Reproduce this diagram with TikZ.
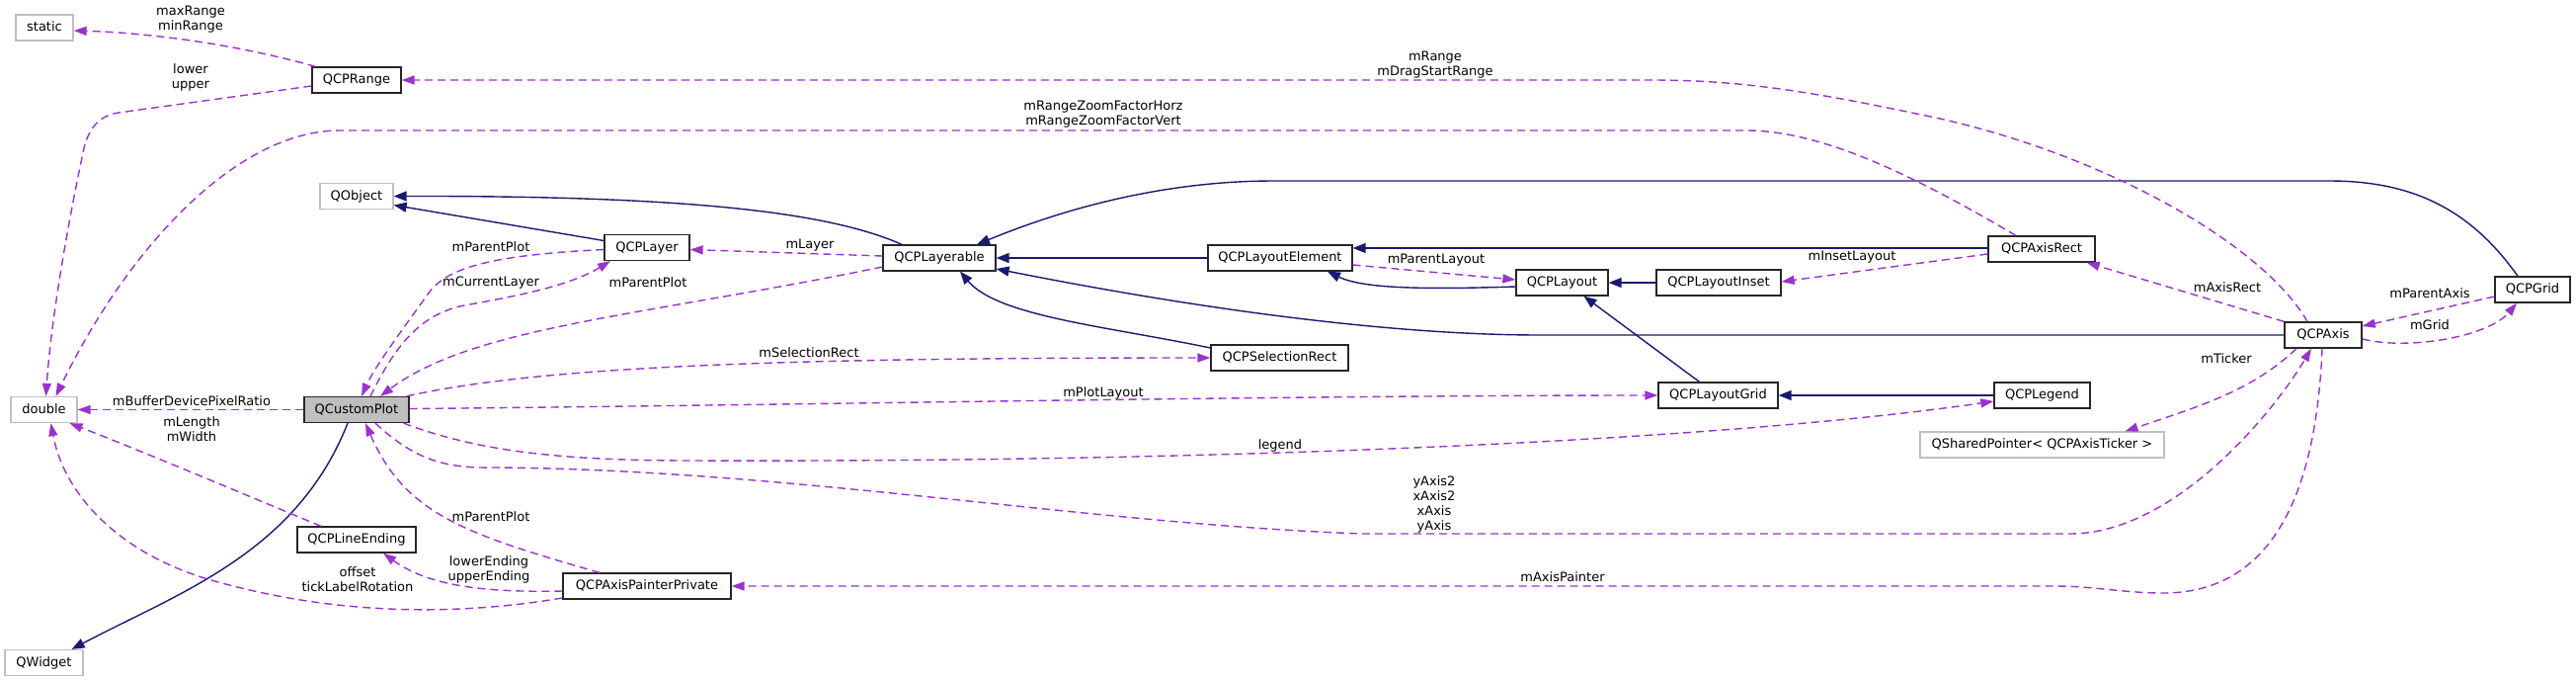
\documentclass[tikz,border=0pt]{standalone}
\usepackage{fontspec}
\setmainfont{DejaVu Sans}
\usetikzlibrary{arrows.meta}
\definecolor{inh}{HTML}{191970}
\definecolor{usec}{HTML}{9A32CD}
\definecolor{ugray}{HTML}{BFBFBF}
\begin{document}
\begin{tikzpicture}[x=1pt,y=-1pt,
  box/.style={rectangle, line width=1.3pt, minimum height=26pt, inner xsep=2pt, inner ysep=0pt,
    text height=10pt, text depth=3pt, font=\fontsize{13}{15}\selectfont, anchor=center},
  doc/.style={box, draw=black!85, fill=white},
  undoc/.style={box, draw=ugray, fill=white},
  inhline/.style={draw=inh, line width=1.4pt, -{Triangle[length=13pt,width=10pt]}},
  useline/.style={draw=usec, line width=1.4pt, dash pattern=on 8pt off 5pt, -{Triangle[length=13pt,width=9pt]}},
  lbl/.style={font=\fontsize{13}{15}\selectfont, align=center, inner sep=0pt}
]
\fill[white] (0,0) rectangle (2608,689);
\useasboundingbox (0,0) rectangle (2608,689);

% nodes
\node[undoc, minimum width=58pt] (static) at (45,28) {static};
\node[doc, minimum width=90pt] (QCPRange) at (361,81) {QCPRange};
\node[undoc, minimum width=74pt] (QObject) at (361,198.5) {QObject};
\node[doc, minimum width=86pt] (QCPLayer) at (655,250.5) {QCPLayer};
\node[doc, minimum width=114pt] (QCPLayerable) at (951,261) {QCPLayerable};
\node[doc, minimum width=146pt] (QCPLayoutElement) at (1296,261) {QCPLayoutElement};
\node[doc, minimum width=93pt] (QCPLayout) at (1581.5,286) {QCPLayout};
\node[doc, minimum width=126pt] (QCPLayoutInset) at (1740,286) {QCPLayoutInset};
\node[doc, minimum width=108pt] (QCPAxisRect) at (2067,252) {QCPAxisRect};
\node[doc, minimum width=76pt] (QCPGrid) at (2564,293) {QCPGrid};
\node[doc, minimum width=78pt] (QCPAxis) at (2352,339) {QCPAxis};
\node[undoc, minimum width=67pt] (double) at (44.5,414.5) {double};
\node[doc, minimum width=106pt, fill=ugray] (QCustomPlot) at (361,414.5) {QCustomPlot};
\node[doc, minimum width=120pt] (QCPLineEnding) at (361,546) {QCPLineEnding};
\node[doc, minimum width=170pt] (QCPAxisPainterPrivate) at (655,593) {QCPAxisPainterPrivate};
\node[undoc, minimum width=79pt] (QWidget) at (44.5,670.5) {QWidget};
\node[doc, minimum width=139pt] (QCPSelectionRect) at (1295.5,362) {QCPSelectionRect};
\node[doc, minimum width=121pt] (QCPLayoutGrid) at (1739.5,400) {QCPLayoutGrid};
\node[doc, minimum width=97pt] (QCPLegend) at (2067.5,400) {QCPLegend};
\node[undoc, minimum width=247pt] (QSharedPointer) at (2067.5,450) {QSharedPointer< QCPAxisTicker >};

% inheritance
\draw[inhline] ([yshift=7pt]QCPLayer.west) -- ([yshift=-9pt]QObject.east);
\draw[inhline] ([xshift=-38pt]QCPLayerable.north) .. controls (840,215) and (700,198) .. (QObject.east);
\draw[inhline] ([xshift=-9pt]QCustomPlot.south) .. controls (300,560) and (180,600) .. ([xshift=-12pt]QWidget.north east);
\draw[inhline] (QCPLayoutElement.west) -- (QCPLayerable.east);
\draw[inhline] (QCPAxis.west) -- (1560,339) .. controls (1400,339) and (1200,310) .. ([yshift=-11pt]QCPLayerable.east);
\draw[inhline] ([xshift=-15pt]QCPGrid.north) .. controls (2500,210) and (2440,183) .. (2358,183) -- (1290,183) .. controls (1180,183) and (1080,210) .. ([xshift=38pt]QCPLayerable.north);
\draw[inhline] ([yshift=10pt]QCPSelectionRect.west) .. controls (1120,330) and (1010,320) .. ([xshift=21pt]QCPLayerable.south);
\draw[inhline] ([yshift=1pt]QCPAxisRect.west) -- ([yshift=10pt]QCPLayoutElement.east);
\draw[inhline] ([yshift=-4pt]QCPLayout.west) .. controls (1440,293) and (1380,292) .. ([xshift=48pt]QCPLayoutElement.south);
\draw[inhline] (QCPLayoutInset.west) -- (QCPLayout.east);
\draw[inhline] ([xshift=-19pt]QCPLayoutGrid.north) -- ([xshift=22pt]QCPLayout.south);
\draw[inhline] (QCPLegend.west) -- (QCPLayoutGrid.east);

% usage
\draw[useline] ([xshift=4pt]QCPRange.north west) .. controls (240,45) and (150,33) .. ([yshift=-3pt]static.east);
\draw[useline] ([yshift=-6pt]QCPRange.west) -- (120,114) .. controls (100,117) and (90,130) .. (85,150) .. controls (70,220) and (52,320) .. ([xshift=2pt]double.north);
\draw[useline] ([xshift=-26pt]QCPAxisRect.north) .. controls (1950,185) and (1850,132) .. (1768,132) -- (344,132) .. controls (240,132) and (130,250) .. ([xshift=12pt]double.north);
\draw[useline] ([xshift=-16pt]QCPAxis.north) .. controls (2290,245) and (2120,150) .. (1940,115) .. controls (1830,92) and (1760,81) .. (1672,81) -- (QCPRange.east);
\draw[useline] (QCustomPlot.west) -- (double.east);
\draw[useline] ([xshift=-36pt]QCPLineEnding.north) .. controls (240,497) and (140,455) .. ([xshift=26pt]double.south);
\draw[useline] ([yshift=-12pt]QCPAxisPainterPrivate.west) .. controls (450,625) and (330,620) .. (214,587) .. controls (120,560) and (65,500) .. ([xshift=7pt]double.south);
\draw[useline] ([yshift=-2pt]QCPLayer.west) .. controls (500,258) and (455,270) .. (435,295) .. controls (410,330) and (380,370) .. ([xshift=5pt]QCustomPlot.north);
\draw[useline] ([xshift=14pt]QCustomPlot.north) .. controls (400,350) and (425,318) .. (470,309) .. controls (520,300) and (575,290) .. ([xshift=-37pt]QCPLayer.south);
\draw[useline] ([yshift=-9pt]QCPLayerable.west) .. controls (650,320) and (480,330) .. ([xshift=24pt]QCustomPlot.north);
\draw[useline] ([yshift=2pt]QCPLayerable.west) -- ([yshift=-2pt]QCPLayer.east);
\draw[useline] ([xshift=-3pt]QCustomPlot.north east) .. controls (550,370) and (800,362) .. (QCPSelectionRect.west);
\draw[useline] ([yshift=1pt]QCustomPlot.east) .. controls (800,410) and (1300,400) .. (QCPLayoutGrid.west);
\draw[useline] ([xshift=-6pt]QCustomPlot.south east) .. controls (480,455) and (560,466) .. (700,466) .. controls (1250,468) and (1750,445) .. ([yshift=-6pt]QCPLegend.west);
\draw[useline] ([xshift=19pt]QCustomPlot.south) .. controls (420,465) and (450,474) .. (500,473) .. controls (800,475) and (1100,530) .. (1380,540) -- (2096,540) .. controls (2200,540) and (2300,420) .. ([xshift=-12pt]QCPAxis.south);
\draw[useline] ([xshift=-48pt]QCPAxisPainterPrivate.north) .. controls (470,540) and (410,520) .. ([xshift=9pt]QCustomPlot.south);
\draw[useline] ([yshift=-5pt]QCPAxisPainterPrivate.west) .. controls (480,600) and (430,590) .. ([xshift=27pt]QCPLineEnding.south);
\draw[useline] ([xshift=-1pt]QCPAxis.south) .. controls (2345,500) and (2300,600) .. (2190,600) .. controls (2150,600) and (2120,593) .. (2080,593) -- (QCPAxisPainterPrivate.east);
\draw[useline] ([yshift=-7pt]QCPLayoutElement.east) -- ([yshift=3pt]QCPLayout.west);
\draw[useline] ([yshift=-5pt]QCPAxisRect.west) -- ([yshift=1pt]QCPLayoutInset.east);
\draw[useline] (QCPAxis.north west) -- ([xshift=-9pt]QCPAxisRect.south east);
\draw[useline] ([yshift=-7pt]QCPGrid.west) -- ([yshift=9pt]QCPAxis.east);
\draw[useline] ([yshift=-4pt]QCPAxis.east) .. controls (2440,355) and (2520,340) .. ([xshift=-16pt]QCPGrid.south);
\draw[useline] ([xshift=-27pt]QCPAxis.south) .. controls (2280,395) and (2230,410) .. ([xshift=84pt]QSharedPointer.north);

% labels
\node[lbl] (l1) at (193,20) {maxRange\\minRange};
\node[lbl] (l2) at (193,78) {lower\\upper};
\node[lbl] (l3) at (1117,116) {mRangeZoomFactorHorz\\mRangeZoomFactorVert};
\node[lbl] (l4) at (1453,66) {mRange\\mDragStartRange};
\node[lbl] (l5) at (194,406) {mBufferDevicePixelRatio};
\node[lbl] (l6) at (194,434) {mLength\\mWidth};
\node[lbl] (l7) at (362,586) {offset\\tickLabelRotation};
\node[lbl] (l8) at (497,250) {mParentPlot};
\node[lbl] (l9) at (497,286) {mCurrentLayer};
\node[lbl] (l10) at (656,286) {mParentPlot};
\node[lbl] (l11) at (820,248) {mLayer};
\node[lbl] (l12) at (819,357) {mSelectionRect};
\node[lbl] (l13) at (1117,398) {mPlotLayout};
\node[lbl] (l14) at (1296,451) {legend};
\node[lbl] (l15) at (1452,510) {yAxis2\\xAxis2\\xAxis\\yAxis};
\node[lbl] (l16) at (497,523) {mParentPlot};
\node[lbl] (l17) at (495,576) {lowerEnding\\upperEnding};
\node[lbl] (l18) at (1582,584) {mAxisPainter};
\node[lbl] (l19) at (1454,263) {mParentLayout};
\node[lbl] (l20) at (1875,260) {mInsetLayout};
\node[lbl] (l21) at (2255,291) {mAxisRect};
\node[lbl] (l22) at (2460,297) {mParentAxis};
\node[lbl] (l23) at (2460,329) {mGrid};
\node[lbl] (l24) at (2254,363) {mTicker};
\end{tikzpicture}
\end{document}
